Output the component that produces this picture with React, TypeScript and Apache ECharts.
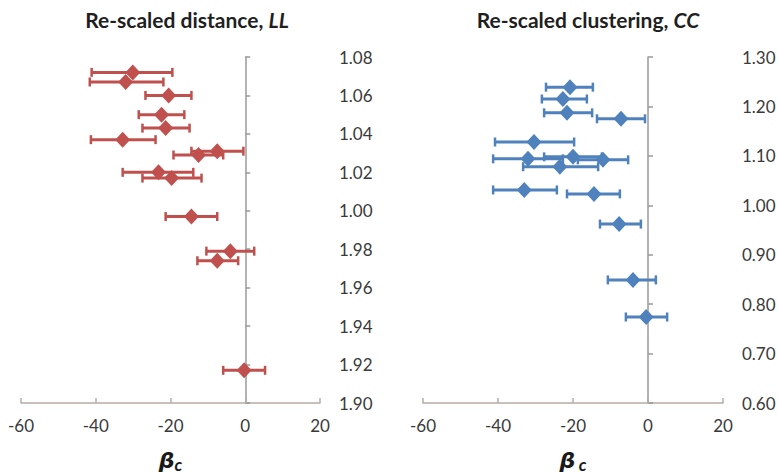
import React, { useEffect, useRef } from 'react';
import * as echarts from 'echarts';

// ---- Data ----
const xMin = -60;
const xMax = 20;
const xInterval = 20;

// Left panel: Re-scaled distance, LL
const llTickLabels = ['1.90', '1.92', '1.94', '1.96', '1.98', '1.00', '1.02', '1.04', '1.06', '1.08'];
const llY = [1.072, 1.067, 1.060, 1.050, 1.043, 1.037, 1.031, 1.029, 1.020, 1.017, 0.997, 0.979, 0.974, 0.917];
const llBeta = [-30.1, -32.0, -20.5, -22.4, -21.3, -32.8, -7.5, -12.5, -23.2, -19.7, -14.4, -4.0, -7.5, -0.3];
const llLow = [-41.1, -41.6, -26.7, -28.5, -27.5, -41.3, -14.4, -19.2, -32.8, -27.5, -21.3, -10.4, -12.8, -5.9];
const llHigh = [-19.5, -21.9, -14.4, -16.3, -14.9, -24.0, -0.5, -5.9, -13.9, -11.7, -7.5, 2.4, -1.9, 5.3];

// Right panel: Re-scaled clustering, CC
const ccTickLabels = ['0.60', '0.70', '0.80', '0.90', '1.00', '1.10', '1.20', '1.30'];
const ccY = [1.239, 1.215, 1.187, 1.175, 1.128, 1.094, 1.098, 1.092, 1.078, 1.031, 1.023, 0.962, 0.849, 0.774];
const ccBeta = [-20.8, -22.7, -21.6, -7.2, -30.4, -32.0, -20.0, -12.0, -23.5, -33.0, -14.4, -7.7, -4.0, -0.5];
const ccLow = [-27.2, -28.3, -27.7, -13.6, -40.8, -41.3, -27.7, -18.7, -33.3, -41.3, -21.6, -12.8, -10.7, -5.9];
const ccHigh = [-14.7, -16.3, -14.9, -0.8, -19.7, -22.7, -12.3, -5.3, -13.3, -24.3, -7.5, -1.9, 2.1, 5.1];

const RED = '#C0504D';
const BLUE = '#4F81BD';
const FONT = 'Lato';

function makeErrorSeries(xi: number, yi: number, color: string, beta: number[], y: number[], lo: number[], hi: number[]) {
  return {
    type: 'custom',
    xAxisIndex: xi,
    yAxisIndex: yi,
    encode: { x: [0, 2, 3], y: 1 },
    data: beta.map((b, i) => [b, y[i], lo[i], hi[i]]),
    z: 2,
    renderItem: (params: any, api: any) => {
      const yv = api.value(1);
      const a = api.coord([api.value(2), yv]);
      const b = api.coord([api.value(3), yv]);
      const cap = 4.5;
      const style = { stroke: color, lineWidth: 3 };
      return {
        type: 'group',
        children: [
          { type: 'line', shape: { x1: a[0], y1: a[1], x2: b[0], y2: b[1] }, style },
          { type: 'line', shape: { x1: a[0], y1: a[1] - cap, x2: a[0], y2: a[1] + cap }, style: { stroke: color, lineWidth: 2.5 } },
          { type: 'line', shape: { x1: b[0], y1: b[1] - cap, x2: b[0], y2: b[1] + cap }, style: { stroke: color, lineWidth: 2.5 } },
        ],
      };
    },
  };
}

function makeScatter(xi: number, yi: number, color: string, beta: number[], y: number[]) {
  return {
    type: 'scatter',
    xAxisIndex: xi,
    yAxisIndex: yi,
    symbol: 'diamond',
    symbolSize: [15, 16],
    itemStyle: { color, opacity: 1 },
    z: 3,
    data: beta.map((b, i) => [b, y[i]]),
  };
}

function makeXAxis(gridIndex: number, nameRich: string) {
  return {
    type: 'value',
    gridIndex,
    min: xMin,
    max: xMax,
    interval: xInterval,
    splitLine: { show: false },
    axisLine: { show: true, onZero: false, lineStyle: { color: '#b5aca6', width: 1.5 } },
    axisTick: { show: true, inside: true, length: 5, lineStyle: { color: '#b5aca6', width: 1.5 } },
    axisLabel: { margin: 14, fontSize: 17, color: '#3a3a3a', fontFamily: FONT },
    name: nameRich,
    nameLocation: 'middle',
    nameGap: 45,
    nameTextStyle: {
      rich: {
        b: { fontSize: 22, fontStyle: 'italic', fontWeight: 'bold', color: '#1a1a1a', fontFamily: 'DejaVu Sans', lineHeight: 24 },
        s: { fontSize: 17, fontStyle: 'italic', fontWeight: 'bold', color: '#1a1a1a', fontFamily: FONT, padding: [8, 0, 0, 0], lineHeight: 18 },
      },
    },
  };
}

function makeYAxes(gridIndex: number, min: number, max: number, interval: number, labels: string[]) {
  return [
    {
      type: 'value',
      gridIndex,
      min,
      max,
      interval,
      position: 'left',
      splitLine: { show: false },
      axisLine: { show: true, onZero: true, lineStyle: { color: '#9a9a9a', width: 1.5 } },
      axisTick: { show: true, inside: true, length: 5, lineStyle: { color: '#9a9a9a', width: 1.5 } },
      axisLabel: { show: false },
    },
    {
      type: 'value',
      gridIndex,
      min,
      max,
      interval,
      position: 'right',
      splitLine: { show: false },
      axisLine: { show: false, onZero: false },
      axisTick: { show: false },
      axisLabel: {
        show: true,
        margin: 19,
        fontSize: 17,
        color: '#3a3a3a',
        fontFamily: FONT,
        formatter: (v: number) => labels[Math.round((v - min) / interval)] ?? '',
      },
    },
  ];
}

export default function App() {
  const ref = useRef<HTMLDivElement>(null);
  useEffect(() => {
    if (!ref.current) return;
    const chart = echarts.init(ref.current, null, { renderer: 'svg' });
    const titleRich = {
      a: { fontSize: 21, fontWeight: 'bold', fill: '#1f1f1f', fontFamily: FONT },
      b: { fontSize: 21, fontWeight: 'bold', fontStyle: 'italic', fill: '#1f1f1f', fontFamily: FONT },
    };
    chart.setOption({
      animation: false,
      backgroundColor: '#ffffff',
      grid: [
        { left: 21, top: 57, width: 299, height: 346, outerBoundsMode: 'none', containLabel: false },
        { left: 423, top: 57, width: 300, height: 346, outerBoundsMode: 'none', containLabel: false },
      ],
      xAxis: [makeXAxis(0, '{b|β}{s|c}'), makeXAxis(1, '{b|β}{s| c}')],
      yAxis: [
        ...makeYAxes(0, 0.9, 1.08, 0.02, llTickLabels),
        ...makeYAxes(1, 0.6, 1.3, 0.1, ccTickLabels),
      ],
      graphic: [
        {
          type: 'text',
          x: 187,
          y: 19,
          style: {
            text: '{a|Re-scaled distance, }{b|LL}',
            rich: titleRich,
            align: 'center',
            verticalAlign: 'middle',
          },
        },
        {
          type: 'text',
          x: 588,
          y: 19,
          style: {
            text: '{a|Re-scaled clustering, }{b|CC}',
            rich: titleRich,
            align: 'center',
            verticalAlign: 'middle',
          },
        },
      ],
      series: [
        makeErrorSeries(0, 0, RED, llBeta, llY, llLow, llHigh),
        makeScatter(0, 0, RED, llBeta, llY),
        makeErrorSeries(1, 2, BLUE, ccBeta, ccY, ccLow, ccHigh),
        makeScatter(1, 2, BLUE, ccBeta, ccY),
      ],
    });
    return () => chart.dispose();
  }, []);
  return <div ref={ref} style={{ position: 'fixed', left: 0, top: 0, width: 778, height: 475 }} />;
}
